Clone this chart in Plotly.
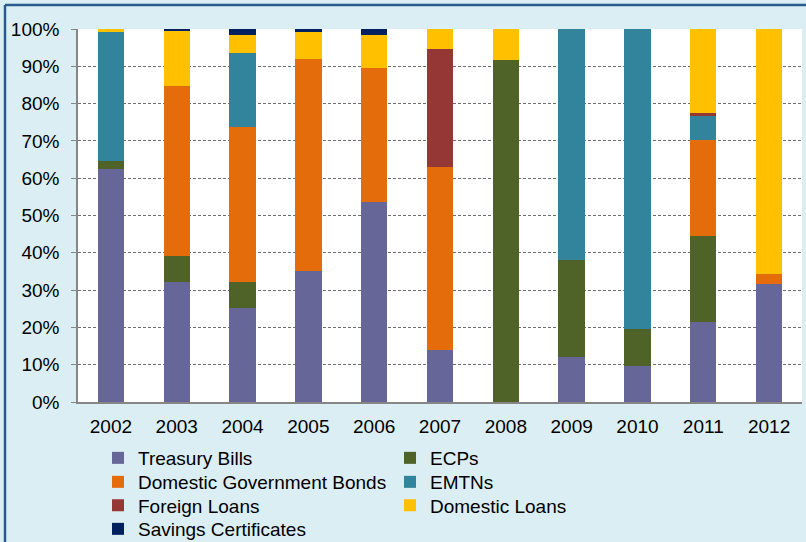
import plotly.graph_objects as go

years = ["2002", "2003", "2004", "2005", "2006", "2007", "2008", "2009", "2010", "2011", "2012"]

treasury_bills = [62.5, 32.3, 25.3, 35.1, 53.7, 14.0, 0.0, 12.1, 9.7, 21.5, 31.7]
ecps = [2.2, 6.9, 7.0, 0.0, 0.0, 0.0, 91.8, 26.0, 9.9, 23.0, 0.0]
domestic_gov_bonds = [0.0, 45.4, 41.3, 56.9, 35.9, 48.9, 0.0, 0.0, 0.0, 25.8, 2.6]
emtns = [34.6, 0.0, 20.0, 0.0, 0.0, 0.0, 0.0, 61.9, 80.4, 6.4, 0.0]
foreign_loans = [0.0, 0.0, 0.0, 0.0, 0.0, 31.8, 0.0, 0.0, 0.0, 0.8, 0.0]
domestic_loans = [0.7, 14.9, 4.7, 7.3, 8.9, 5.3, 8.2, 0.0, 0.0, 22.5, 65.7]
savings_certificates = [0.0, 0.5, 1.7, 0.7, 1.5, 0.0, 0.0, 0.0, 0.0, 0.0, 0.0]

tick_values = [0, 10, 20, 30, 40, 50, 60, 70, 80, 90, 100]
tick_labels = ["0%", "10%", "20%", "30%", "40%", "50%", "60%", "70%", "80%", "90%", "100%"]

# (name, values, colour, legend row)
series = [
    ("Treasury Bills", treasury_bills, "#666699", "legend"),
    ("ECPs", ecps, "#4F6228", "legend"),
    ("Domestic Government Bonds", domestic_gov_bonds, "#E46C0A", "legend2"),
    ("EMTNs", emtns, "#31849B", "legend2"),
    ("Foreign Loans", foreign_loans, "#953735", "legend3"),
    ("Domestic Loans", domestic_loans, "#FFC000", "legend3"),
    ("Savings Certificates", savings_certificates, "#002060", "legend4"),
]

FONT = "Arial, Liberation Sans, sans-serif"

fig = go.Figure()
for name, vals, color, lg in series:
    fig.add_trace(go.Bar(
        x=years, y=vals, name=name,
        marker=dict(color=color, line=dict(width=0)),
        legend=lg,
        hoverinfo="x+y+name",
    ))

W, H = 806, 542
L, R, T, B = 78, 4, 29, 140
pw = W - L - R
ph = H - T - B

def px2x(px):
    return (px - L) / pw

def py2y(py):
    return (H - B - py) / ph

def legend_row(py):
    return dict(
        orientation="h",
        x=px2x(98), xanchor="left",
        y=py2y(py), yanchor="middle",
        entrywidth=247, entrywidthmode="pixels",
        traceorder="normal",
        font=dict(family=FONT, size=19, color="#000000"),
        bgcolor="rgba(0,0,0,0)",
        borderwidth=0,
    )

fig.update_layout(
    width=W, height=H,
    barmode="stack",
    bargap=0.6,
    margin=dict(l=L, r=R, t=T, b=B, autoexpand=False),
    paper_bgcolor="#DBEEF3",
    plot_bgcolor="#FFFFFF",
    font=dict(family=FONT, size=19, color="#000000"),
    showlegend=True,
    legend=legend_row(458),
    legend2=legend_row(482),
    legend3=legend_row(505.5),
    legend4=legend_row(529),
    xaxis=dict(
        type="category",
        showgrid=False,
        showline=True, linecolor="#868686", linewidth=1.5,
        ticks="", tickfont=dict(size=19),
        ticklabelstandoff=6,
        range=[-0.5, 10.5],
    ),
    yaxis=dict(
        range=[0, 100],
        tickvals=tick_values,
        ticktext=tick_labels,
        showgrid=True, gridcolor="#6F6F6F", gridwidth=1, griddash="3px,2px",
        showline=True, linecolor="#868686", linewidth=1.5,
        ticks="outside", ticklen=5, tickcolor="#868686",
        tickfont=dict(size=19),
        ticklabelstandoff=8,
        zeroline=False,
    ),
    shapes=[
        dict(type="line", xref="paper", yref="paper",
             x0=px2x(5), x1=px2x(806), y0=py2y(5), y1=py2y(5),
             line=dict(color="#2A5B8E", width=2.5)),
        dict(type="line", xref="paper", yref="paper",
             x0=px2x(5), x1=px2x(5), y0=py2y(5), y1=py2y(542),
             line=dict(color="#2A5B8E", width=2.5)),
    ],
    annotations=[
        dict(text="Figure 4: Issuance Structure \u2013 Category", xref="paper", yref="paper",
             x=px2x(10), y=py2y(-11), xanchor="left", yanchor="bottom",
             showarrow=False, font=dict(family=FONT, size=14, color="#1F5FA8")),
    ],
)

fig.write_html("out.html")
